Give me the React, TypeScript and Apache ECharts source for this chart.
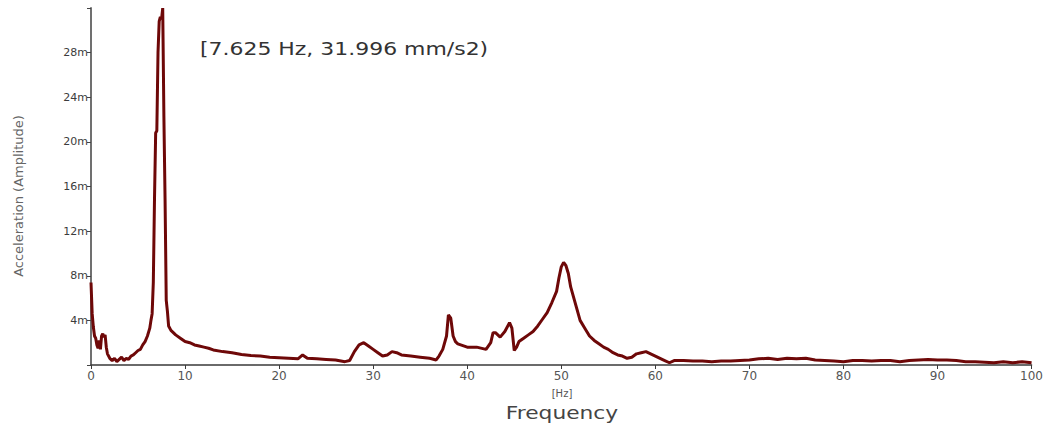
import React, { useEffect, useRef } from "react";
import * as echarts from "echarts";

const freqHz: number[] = [
  0, 0.125, 0.25, 0.375, 0.5, 0.625, 0.75, 0.875, 1.0, 1.125, 1.25, 1.375, 1.5, 1.625, 1.75,
  2.0, 2.25, 2.5, 2.75, 3.0, 3.25, 3.5, 3.75, 4.0, 4.25, 4.5, 4.75, 5.0, 5.25, 5.5, 5.75,
  6.0, 6.25, 6.375, 6.5, 6.625, 6.75, 6.875, 7.0, 7.125, 7.25, 7.375, 7.5, 7.625, 7.75,
  7.875, 8.0, 8.125, 8.25, 8.5, 8.75, 9.0, 9.5, 10.0, 10.5, 11.0, 11.5, 12.0, 12.5, 13.0,
  14.0, 15.0, 16.0, 17.0, 18.0, 19.0, 20.0, 21.0, 22.0, 22.5, 23.0, 24.0, 25.0, 26.0, 27.0,
  27.5, 28.0, 28.5, 29.0, 29.5, 30.0, 30.5, 31.0, 31.5, 32.0, 32.5, 33.0, 34.0, 35.0, 36.0,
  36.7, 37.0, 37.4, 37.8, 38.0, 38.25, 38.5, 38.75, 39.0, 40.0, 41.0, 42.0, 42.5, 42.75,
  43.0, 43.5, 44.0, 44.5, 44.75, 45.0, 45.25, 45.5, 46.0, 46.5, 47.0, 47.5, 48.0, 48.5,
  49.0, 49.5, 49.75, 50.0, 50.25, 50.5, 50.75, 51.0, 51.5, 52.0, 52.5, 53.0, 53.5, 54.0,
  54.5, 55.0, 55.5, 56.0, 56.5, 57.0, 57.5, 58.0, 58.5, 59.0, 59.5, 60.0, 60.5, 61.0, 61.5,
  62, 63, 64, 65, 66, 67, 68, 69, 70, 71, 72, 73, 74, 75, 76, 77, 78, 79, 80, 81, 82, 83,
  84, 85, 86, 87, 88, 89, 90, 91, 92, 93, 94, 95, 96, 97, 98, 99, 100,
];

const amplitudeM: number[] = [
  7.4, 4.6, 3.4, 2.6, 2.4, 1.8, 1.5, 2.2, 1.4, 2.6, 2.8, 2.5, 2.7, 1.6, 1.0,
  0.6, 0.4, 0.6, 0.3, 0.5, 0.7, 0.4, 0.6, 0.5, 0.8, 0.9, 1.1, 1.3, 1.4, 1.8, 2.1,
  2.6, 3.3, 4.0, 4.6, 7.4, 14.8, 20.8, 21.0, 28.0, 30.8, 31.2, 31.0, 31.996, 22.3,
  14.8, 5.8, 4.8, 3.5, 3.1, 2.9, 2.7, 2.4, 2.1, 2.0, 1.8, 1.7, 1.6, 1.5, 1.35,
  1.2, 1.1, 0.95, 0.85, 0.8, 0.7, 0.65, 0.6, 0.55, 0.9, 0.6, 0.55, 0.5, 0.45, 0.3,
  0.4, 1.2, 1.8, 2.0, 1.7, 1.4, 1.1, 0.8, 0.9, 1.2, 1.1, 0.9, 0.8, 0.7, 0.6,
  0.45, 0.8, 1.4, 2.6, 4.5, 4.2, 2.6, 2.1, 1.9, 1.6, 1.6, 1.4, 2.0, 2.9,
  2.9, 2.5, 3.0, 3.8, 3.3, 1.3, 1.6, 2.1, 2.4, 2.7, 3.0, 3.5, 4.1, 4.7,
  5.6, 6.6, 7.8, 8.8, 9.2, 8.9, 8.2, 7.0, 5.5, 4.0, 3.3, 2.6, 2.2, 1.9,
  1.6, 1.4, 1.1, 0.9, 0.8, 0.6, 0.7, 1.0, 1.1, 1.2, 1.0, 0.8, 0.6, 0.4, 0.2,
  0.4, 0.4, 0.35, 0.35, 0.3, 0.35, 0.35, 0.4, 0.45, 0.55, 0.6, 0.5, 0.6, 0.55, 0.6, 0.45, 0.4, 0.35, 0.3, 0.4, 0.4, 0.35,
  0.4, 0.4, 0.3, 0.4, 0.45, 0.5, 0.45, 0.45, 0.4, 0.3, 0.3, 0.25, 0.2, 0.3, 0.2, 0.3, 0.2,
];

const xTicks: number[] = [0, 10, 20, 30, 40, 50, 60, 70, 80, 90, 100];
const yTickLabels: string[] = ["4m", "8m", "12m", "16m", "20m", "24m", "28m"];
const annotationText = "[7.625 Hz, 31.996 mm/s2)";
const yAxisName = "Acceleration (Amplitude)";
const xUnit = "[Hz]";
const xAxisName = "Frequency";

export default function App() {
  const ref = useRef<HTMLDivElement>(null);
  useEffect(() => {
    if (!ref.current) return;
    const chart = echarts.init(ref.current, undefined, { renderer: "svg" });
    const data = freqHz.map((f, i) => [f, amplitudeM[i]]);
    const font = "'DejaVu Sans', 'Open Sans', sans-serif";
    chart.setOption({
      animation: false,
      backgroundColor: "#ffffff",
      grid: { left: 91, right: 13, top: 8, bottom: 62, containLabel: false },
      xAxis: {
        type: "value",
        min: xTicks[0],
        max: xTicks[xTicks.length - 1],
        interval: 10,
        splitLine: { show: false },
        axisLine: { show: true, onZero: false, lineStyle: { color: "#3a3a3a", width: 1.5 } },
        axisTick: { show: true, length: 4, lineStyle: { color: "#3a3a3a" } },
        axisLabel: { color: "#555", fontSize: 12, fontFamily: font, margin: 5 },
      },
      yAxis: {
        type: "value",
        min: 0,
        max: 32,
        interval: 4,
        splitLine: { show: false },
        axisLine: { show: true, lineStyle: { color: "#707070", width: 2 } },
        axisTick: { show: true, length: 4, lineStyle: { color: "#444" } },
        axisLabel: {
          color: "#3c3c3c",
          fontSize: 11,
          fontFamily: font,
          margin: 3,
          formatter: (v: number) => {
            const idx = Math.round(v / 4) - 1;
            return idx >= 0 && idx < yTickLabels.length ? yTickLabels[idx] : "";
          },
        },
      },
      series: [
        {
          type: "line",
          data,
          showSymbol: false,
          symbol: "none",
          lineStyle: { color: "#6e0808", width: 3 },
          itemStyle: { color: "#6e0808" },
        },
      ],
      graphic: [
        {
          type: "text",
          x: 200,
          y: 49,
          scaleX: 1.22,
          style: { text: annotationText, fill: "#333", fontSize: 18, fontFamily: font, verticalAlign: "middle" },
        },
        {
          type: "text",
          x: 18,
          y: 196,
          rotation: Math.PI / 2,
          style: {
            text: yAxisName,
            fill: "#666",
            fontSize: 13,
            fontFamily: font,
            align: "center",
            verticalAlign: "middle",
          },
        },
        {
          type: "text",
          x: 562,
          y: 393,
          style: { text: xUnit, fill: "#555", fontSize: 10, fontFamily: font, align: "center", verticalAlign: "middle" },
        },
        {
          type: "text",
          x: 562,
          y: 413,
          scaleX: 1.28,
          style: { text: xAxisName, fill: "#444", fontSize: 17, fontFamily: font, align: "center", verticalAlign: "middle" },
        },
      ],
    });
    return () => chart.dispose();
  }, []);
  return (
    <div
      ref={ref}
      style={{ position: "fixed", left: 0, top: 0, width: 1046, height: 427, background: "#fff" }}
    />
  );
}
